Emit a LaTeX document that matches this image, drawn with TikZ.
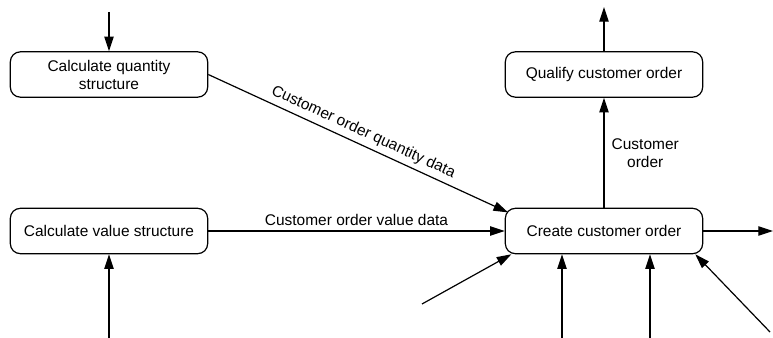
\documentclass[tikz,border=0pt]{standalone}
\usepackage{fontspec}
\setmainfont{Liberation Sans}
\usetikzlibrary{arrows.meta,positioning}

\begin{document}
\begin{tikzpicture}[x=0.75pt, y=-0.75pt,
    proc/.style={draw, rounded corners=7.5pt, line width=0.9pt, minimum width=148pt,
      minimum height=34pt, align=center, inner sep=2pt, font=\fontsize{11.6}{13.5}\selectfont},
    flow/.style={-{Triangle[length=11pt,width=7pt]}, line width=0.9pt},
    lbl/.style={font=\fontsize{11.6}{13.5}\selectfont}]
  \useasboundingbox (0,0) rectangle (773,338);

  % activities
  \node[proc] (qty)    at (109,74.5) {Calculate quantity\\structure};
  \node[proc] (val)    at (109,231)  {Calculate value structure};
  \node[proc] (qual)   at (604,74.5) {Qualify customer order};
  \node[proc] (create) at (604,231)  {Create customer order};

  % loose ends
  \coordinate (qtyin)  at (109,12);
  \coordinate (valin)  at (109,338);
  \coordinate (qualout) at (604,7);
  \coordinate (out)    at (773,231);
  \coordinate (inA)    at (422,304);
  \coordinate (inB)    at (562,338);
  \coordinate (inC)    at (650,338);
  \coordinate (inD)    at (770,332);

  \draw[flow] (qtyin) -- (qty);
  \draw[flow] (valin) -- (val);
  \draw[flow] (qty.east) -- ([xshift=2.5pt,yshift=-3.5pt]create.north west)
    node[lbl, midway, above, sloped] {Customer order quantity data};
  \draw[flow] (val) -- (create) node[lbl, midway, above] {Customer order value data};
  \draw[flow] (create) -- (qual) node[lbl, midway, right, align=center, xshift=2pt] {Customer\\order};
  \draw[flow] (qual) -- (qualout);
  \draw[flow] (create) -- (out);
  \draw[flow] (inA) -- ([xshift=5pt]create.south west);
  \draw[flow] (inB) -- (inB |- create.south);
  \draw[flow] (inC) -- (inC |- create.south);
  \draw[flow] (inD) -- ([xshift=-6pt]create.south east);
\end{tikzpicture}
\end{document}
